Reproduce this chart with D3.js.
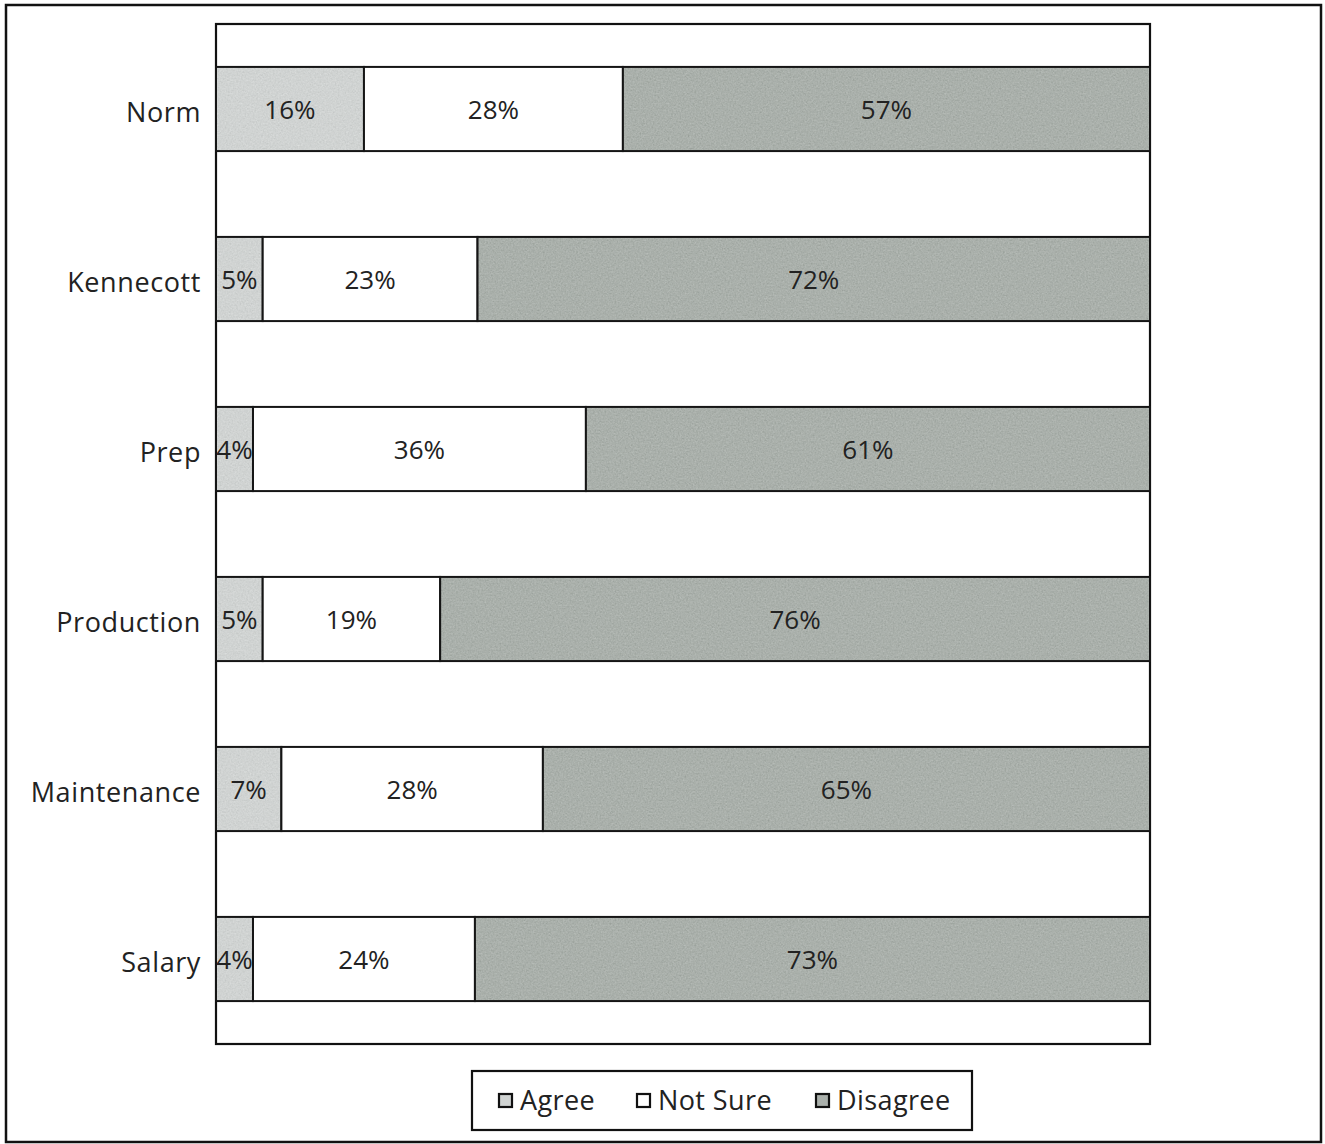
<!DOCTYPE html>
<html>
<head>
<meta charset="utf-8">
<script src="https://cdn.jsdelivr.net/npm/d3@7"></script>
<style>
  html, body { margin: 0; padding: 0; background: #fff; }
  svg { display: block; }
  text { font-family: "Open Sans", "DejaVu Sans", sans-serif; fill: #222; }
</style>
</head>
<body>
<svg id="chart" width="1325" height="1144"></svg>
<script>
// Survey response shares by group (percent, as printed on each segment)
const categories = ["Norm", "Kennecott", "Prep", "Production", "Maintenance", "Salary"];
const agree    = [16, 5, 4, 5, 7, 4];
const notSure  = [28, 23, 36, 19, 28, 24];
const disagree = [57, 72, 61, 76, 65, 73];
const seriesNames = ["Agree", "Not Sure", "Disagree"];
const seriesColors = ["#d0d3d2", "#ffffff", "#aab0ab"];

const svg = d3.select("#chart");
const W = 1325, H = 1144;
const plot = { left: 216, right: 1150, top: 24, bottom: 1044 };

// grainy print texture for the shaded fills
const defs = svg.append("defs");
const f = defs.append("filter").attr("id", "grain")
  .attr("x", 0).attr("y", 0).attr("width", 1).attr("height", 1);
f.append("feTurbulence").attr("type", "fractalNoise")
  .attr("baseFrequency", "0.6").attr("numOctaves", 2).attr("seed", 4).attr("result", "noise");
f.append("feColorMatrix").attr("in", "noise").attr("type", "matrix")
  .attr("values", "0.33 0.33 0.33 0 0  0.33 0.33 0.33 0 0  0.33 0.33 0.33 0 0  0 0 0 0 1")
  .attr("result", "gray");
f.append("feComposite").attr("in", "SourceGraphic").attr("in2", "gray")
  .attr("operator", "arithmetic").attr("k1", 0).attr("k2", 1).attr("k3", 0.3).attr("k4", -0.15)
  .attr("result", "mix");
f.append("feComposite").attr("in", "mix").attr("in2", "SourceGraphic").attr("operator", "in");

// outer frame
svg.append("rect")
  .attr("x", 6).attr("y", 5).attr("width", W - 10).attr("height", H - 7)
  .attr("fill", "none").attr("stroke", "#111").attr("stroke-width", 2.5);

// rows: one object per category, stacked after normalising each row to 100
const rows = categories.map((c, i) => ({
  cat: c,
  "Agree": agree[i],
  "Not Sure": notSure[i],
  "Disagree": disagree[i]
}));

const stack = d3.stack().keys(seriesNames).offset(d3.stackOffsetExpand);
const stacked = stack(rows);

const x = d3.scaleLinear().domain([0, 1]).range([plot.left, plot.right]);
const y = d3.scaleBand().domain(categories).range([plot.top, plot.bottom])
  .paddingInner(0.505).paddingOuter(0.2525);

// plot area frame
svg.append("rect")
  .attr("x", plot.left).attr("y", plot.top)
  .attr("width", plot.right - plot.left).attr("height", plot.bottom - plot.top)
  .attr("fill", "#fff").attr("stroke", "#111").attr("stroke-width", 2.2);

const layers = svg.append("g").selectAll("g.layer")
  .data(stacked).join("g").attr("class", "layer");

layers.selectAll("rect")
  .data((s, si) => s.map(d => ({ d, si, key: s.key })))
  .join("rect")
  .attr("x", o => x(o.d[0]))
  .attr("y", o => y(o.d.data.cat))
  .attr("width", o => x(o.d[1]) - x(o.d[0]))
  .attr("height", y.bandwidth())
  .attr("fill", o => seriesColors[o.si])
  .attr("filter", o => o.si === 1 ? null : "url(#grain)");

// segment outlines drawn on top of the textured fills
layers.selectAll("rect.edge")
  .data((s, si) => s.map(d => ({ d, si })))
  .join("rect").attr("class", "edge")
  .attr("x", o => x(o.d[0]))
  .attr("y", o => y(o.d.data.cat))
  .attr("width", o => x(o.d[1]) - x(o.d[0]))
  .attr("height", y.bandwidth())
  .attr("fill", "none").attr("stroke", "#151515").attr("stroke-width", 2);

// value labels centred in each segment
layers.selectAll("text")
  .data(s => s.map(d => ({ d, v: d.data[s.key] })))
  .join("text")
  .attr("x", o => (x(o.d[0]) + x(o.d[1])) / 2)
  .attr("y", o => y(o.d.data.cat) + y.bandwidth() / 2 + 1)
  .attr("dy", "0.35em")
  .attr("text-anchor", "middle")
  .attr("font-size", 26)
  .text(o => o.v + "%");

// category axis labels
const yAxis = d3.axisLeft(y).tickSize(0).tickPadding(15);
const ya = svg.append("g").attr("transform", `translate(${plot.left},4)`).call(yAxis);
ya.select(".domain").remove();
ya.selectAll("text")
  .attr("font-size", 27)
  .attr("letter-spacing", 0.6)
  .attr("font-family", "\"Open Sans\", \"DejaVu Sans\", sans-serif")
  .attr("fill", "#222");

// legend
const lg = svg.append("g");
lg.append("rect")
  .attr("x", 472).attr("y", 1071).attr("width", 500).attr("height", 59)
  .attr("fill", "#fff").attr("stroke", "#111").attr("stroke-width", 2.2);
const legendX = [499, 637, 816];
seriesNames.forEach((name, i) => {
  lg.append("rect")
    .attr("x", legendX[i]).attr("y", 1094).attr("width", 13).attr("height", 13)
    .attr("fill", seriesColors[i]).attr("stroke", "#111").attr("stroke-width", 2.2);
  lg.append("text")
    .attr("x", legendX[i] + 21).attr("y", 1101).attr("dy", "0.35em")
    .attr("font-size", 27)
    .attr("letter-spacing", 0.4)
    .text(name);
});
</script>
</body>
</html>
